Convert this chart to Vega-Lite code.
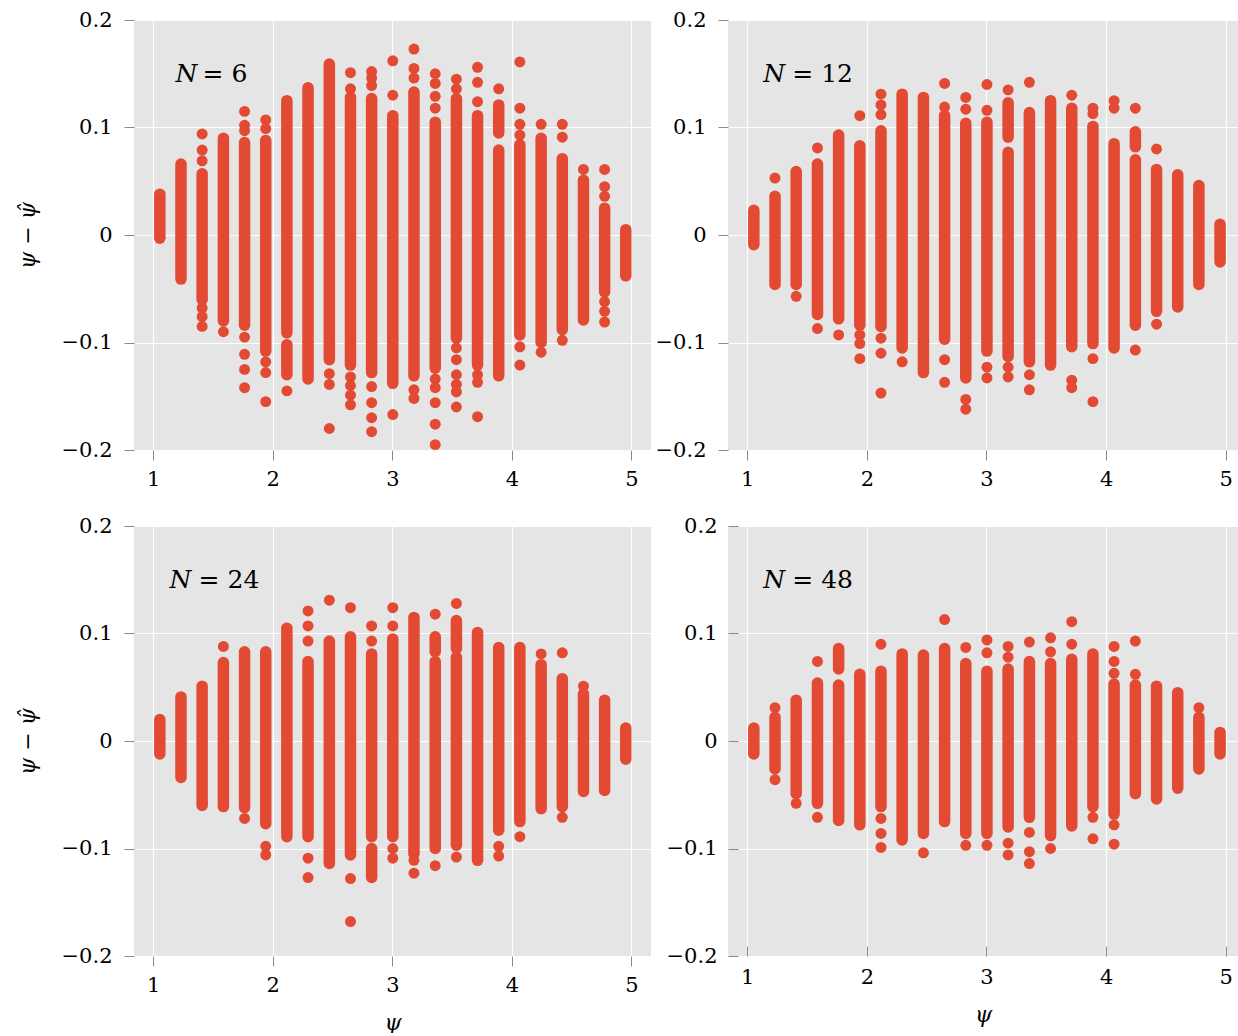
{
  "$schema": "https://vega.github.io/schema/vega-lite/v6.json",
  "padding": {"left": 16, "top": 9, "right": 0, "bottom": 0},
  "background": "white",
  "bounds": "flush",
  "columns": 2,
  "spacing": {"row": 76, "column": 77},
  "config": {
    "view": {"fill": "#E5E5E5", "stroke": null},
    "axis": {
      "domain": false,
      "labelFont": "DejaVu Serif",
      "labelFontSize": 21,
      "labelColor": "#000000",
      "tickColor": "#8a8a8a",
      "tickSize": 10,
      "tickWidth": 1,
      "labelPadding": 8,
      "gridColor": "#ffffff",
      "gridWidth": 1.2,
      "titleFont": "DejaVu Serif",
      "titleFontSize": 22,
      "titleFontWeight": "normal",
      "titleFontStyle": "italic",
      "titleColor": "#000000"
    },
    "axisLeft": {"labelPadding": 12}
  },
  "datasets": {
    "core": [
      {"p":6,"x":1.055,"hi":0.038,"lo":-0.003},{"p":6,"x":1.232,"hi":0.066,"lo":-0.041},{"p":6,"x":1.409,"hi":0.057,"lo":-0.060},{"p":6,"x":1.587,"hi":0.090,"lo":-0.080},{"p":6,"x":1.764,"hi":0.086,"lo":-0.084},{"p":6,"x":1.941,"hi":0.088,"lo":-0.108},{"p":6,"x":2.118,"hi":0.125,"lo":-0.091},{"p":6,"x":2.118,"hi":-0.102,"lo":-0.130},{"p":6,"x":2.295,"hi":0.137,"lo":-0.134},{"p":6,"x":2.473,"hi":0.159,"lo":-0.116},{"p":6,"x":2.65,"hi":0.128,"lo":-0.121},{"p":6,"x":2.827,"hi":0.127,"lo":-0.128},{"p":6,"x":3.004,"hi":0.111,"lo":-0.138},{"p":6,"x":3.181,"hi":0.133,"lo":-0.131},{"p":6,"x":3.359,"hi":0.105,"lo":-0.124},{"p":6,"x":3.536,"hi":0.127,"lo":-0.096},{"p":6,"x":3.713,"hi":0.111,"lo":-0.121},{"p":6,"x":3.89,"hi":0.121,"lo":0.095},{"p":6,"x":3.89,"hi":0.079,"lo":-0.131},{"p":6,"x":4.067,"hi":0.084,"lo":-0.093},{"p":6,"x":4.245,"hi":0.090,"lo":-0.100},{"p":6,"x":4.422,"hi":0.071,"lo":-0.088},{"p":6,"x":4.599,"hi":0.051,"lo":-0.079},{"p":6,"x":4.776,"hi":0.025,"lo":-0.053},{"p":6,"x":4.953,"hi":0.005,"lo":-0.038},
      {"p":12,"x":1.055,"hi":0.023,"lo":-0.009},{"p":12,"x":1.232,"hi":0.036,"lo":-0.046},{"p":12,"x":1.409,"hi":0.059,"lo":-0.046},{"p":12,"x":1.587,"hi":0.066,"lo":-0.074},{"p":12,"x":1.764,"hi":0.093,"lo":-0.078},{"p":12,"x":1.941,"hi":0.083,"lo":-0.084},{"p":12,"x":2.118,"hi":0.097,"lo":-0.085},{"p":12,"x":2.295,"hi":0.131,"lo":-0.105},{"p":12,"x":2.473,"hi":0.128,"lo":-0.128},{"p":12,"x":2.65,"hi":0.111,"lo":-0.097},{"p":12,"x":2.827,"hi":0.104,"lo":-0.133},{"p":12,"x":3.004,"hi":0.105,"lo":-0.108},{"p":12,"x":3.181,"hi":0.123,"lo":0.091},{"p":12,"x":3.181,"hi":0.077,"lo":-0.113},{"p":12,"x":3.359,"hi":0.114,"lo":-0.118},{"p":12,"x":3.536,"hi":0.125,"lo":-0.121},{"p":12,"x":3.713,"hi":0.118,"lo":-0.104},{"p":12,"x":3.89,"hi":0.101,"lo":-0.101},{"p":12,"x":4.067,"hi":0.085,"lo":-0.105},{"p":12,"x":4.245,"hi":0.096,"lo":0.082},{"p":12,"x":4.245,"hi":0.070,"lo":-0.084},{"p":12,"x":4.422,"hi":0.061,"lo":-0.071},{"p":12,"x":4.599,"hi":0.056,"lo":-0.067},{"p":12,"x":4.776,"hi":0.046,"lo":-0.046},{"p":12,"x":4.953,"hi":0.010,"lo":-0.025},
      {"p":24,"x":1.055,"hi":0.020,"lo":-0.012},{"p":24,"x":1.232,"hi":0.041,"lo":-0.034},{"p":24,"x":1.409,"hi":0.051,"lo":-0.060},{"p":24,"x":1.587,"hi":0.073,"lo":-0.061},{"p":24,"x":1.764,"hi":0.083,"lo":-0.062},{"p":24,"x":1.941,"hi":0.083,"lo":-0.077},{"p":24,"x":2.118,"hi":0.105,"lo":-0.089},{"p":24,"x":2.295,"hi":0.074,"lo":-0.089},{"p":24,"x":2.473,"hi":0.093,"lo":-0.114},{"p":24,"x":2.65,"hi":0.097,"lo":-0.106},{"p":24,"x":2.827,"hi":0.081,"lo":-0.089},{"p":24,"x":2.827,"hi":-0.100,"lo":-0.127},{"p":24,"x":3.004,"hi":0.095,"lo":-0.089},{"p":24,"x":3.181,"hi":0.115,"lo":-0.105},{"p":24,"x":3.359,"hi":0.097,"lo":0.083},{"p":24,"x":3.359,"hi":0.074,"lo":-0.100},{"p":24,"x":3.536,"hi":0.112,"lo":0.086},{"p":24,"x":3.536,"hi":0.078,"lo":-0.097},{"p":24,"x":3.713,"hi":0.101,"lo":-0.111},{"p":24,"x":3.89,"hi":0.087,"lo":-0.083},{"p":24,"x":4.067,"hi":0.087,"lo":-0.075},{"p":24,"x":4.245,"hi":0.071,"lo":-0.063},{"p":24,"x":4.422,"hi":0.058,"lo":-0.061},{"p":24,"x":4.599,"hi":0.044,"lo":-0.047},{"p":24,"x":4.776,"hi":0.038,"lo":-0.046},{"p":24,"x":4.953,"hi":0.012,"lo":-0.017},
      {"p":48,"x":1.055,"hi":0.012,"lo":-0.012},{"p":48,"x":1.232,"hi":0.022,"lo":-0.026},{"p":48,"x":1.409,"hi":0.038,"lo":-0.049},{"p":48,"x":1.587,"hi":0.054,"lo":-0.058},{"p":48,"x":1.764,"hi":0.086,"lo":0.067},{"p":48,"x":1.764,"hi":0.052,"lo":-0.074},{"p":48,"x":1.941,"hi":0.062,"lo":-0.078},{"p":48,"x":2.118,"hi":0.065,"lo":-0.061},{"p":48,"x":2.295,"hi":0.081,"lo":-0.092},{"p":48,"x":2.473,"hi":0.080,"lo":-0.086},{"p":48,"x":2.65,"hi":0.086,"lo":-0.075},{"p":48,"x":2.827,"hi":0.072,"lo":-0.086},{"p":48,"x":3.004,"hi":0.065,"lo":-0.086},{"p":48,"x":3.181,"hi":0.067,"lo":-0.080},{"p":48,"x":3.359,"hi":0.074,"lo":-0.071},{"p":48,"x":3.536,"hi":0.072,"lo":-0.088},{"p":48,"x":3.713,"hi":0.076,"lo":-0.079},{"p":48,"x":3.89,"hi":0.081,"lo":-0.061},{"p":48,"x":4.067,"hi":0.053,"lo":-0.068},{"p":48,"x":4.245,"hi":0.052,"lo":-0.049},{"p":48,"x":4.422,"hi":0.051,"lo":-0.054},{"p":48,"x":4.599,"hi":0.045,"lo":-0.044},{"p":48,"x":4.776,"hi":0.022,"lo":-0.026},{"p":48,"x":4.953,"hi":0.008,"lo":-0.012}
    ],
    "pts": [
      {"p":6,"x":1.409,"y":0.094},{"p":6,"x":1.409,"y":0.079},{"p":6,"x":1.409,"y":0.069},{"p":6,"x":1.409,"y":-0.068},{"p":6,"x":1.409,"y":-0.076},{"p":6,"x":1.409,"y":-0.085},
      {"p":6,"x":1.587,"y":-0.090},
      {"p":6,"x":1.764,"y":0.115},{"p":6,"x":1.764,"y":0.102},{"p":6,"x":1.764,"y":0.097},{"p":6,"x":1.764,"y":-0.095},{"p":6,"x":1.764,"y":-0.111},{"p":6,"x":1.764,"y":-0.125},{"p":6,"x":1.764,"y":-0.142},
      {"p":6,"x":1.941,"y":0.107},{"p":6,"x":1.941,"y":0.099},{"p":6,"x":1.941,"y":-0.118},{"p":6,"x":1.941,"y":-0.128},{"p":6,"x":1.941,"y":-0.155},
      {"p":6,"x":2.118,"y":-0.145},
      {"p":6,"x":2.473,"y":-0.129},{"p":6,"x":2.473,"y":-0.139},{"p":6,"x":2.473,"y":-0.180},
      {"p":6,"x":2.65,"y":0.151},{"p":6,"x":2.65,"y":0.136},{"p":6,"x":2.65,"y":-0.132},{"p":6,"x":2.65,"y":-0.140},{"p":6,"x":2.65,"y":-0.149},{"p":6,"x":2.65,"y":-0.158},
      {"p":6,"x":2.827,"y":0.152},{"p":6,"x":2.827,"y":0.146},{"p":6,"x":2.827,"y":0.139},{"p":6,"x":2.827,"y":-0.141},{"p":6,"x":2.827,"y":-0.156},{"p":6,"x":2.827,"y":-0.170},{"p":6,"x":2.827,"y":-0.183},
      {"p":6,"x":3.004,"y":0.162},{"p":6,"x":3.004,"y":0.130},{"p":6,"x":3.004,"y":-0.167},
      {"p":6,"x":3.181,"y":0.173},{"p":6,"x":3.181,"y":0.155},{"p":6,"x":3.181,"y":0.146},{"p":6,"x":3.181,"y":-0.144},{"p":6,"x":3.181,"y":-0.152},
      {"p":6,"x":3.359,"y":0.150},{"p":6,"x":3.359,"y":0.141},{"p":6,"x":3.359,"y":0.129},{"p":6,"x":3.359,"y":0.118},{"p":6,"x":3.359,"y":-0.134},{"p":6,"x":3.359,"y":-0.142},{"p":6,"x":3.359,"y":-0.156},{"p":6,"x":3.359,"y":-0.176},{"p":6,"x":3.359,"y":-0.195},
      {"p":6,"x":3.536,"y":0.145},{"p":6,"x":3.536,"y":0.136},{"p":6,"x":3.536,"y":-0.105},{"p":6,"x":3.536,"y":-0.116},{"p":6,"x":3.536,"y":-0.130},{"p":6,"x":3.536,"y":-0.139},{"p":6,"x":3.536,"y":-0.146},{"p":6,"x":3.536,"y":-0.160},
      {"p":6,"x":3.713,"y":0.156},{"p":6,"x":3.713,"y":0.142},{"p":6,"x":3.713,"y":0.124},{"p":6,"x":3.713,"y":-0.130},{"p":6,"x":3.713,"y":-0.137},{"p":6,"x":3.713,"y":-0.169},
      {"p":6,"x":3.89,"y":0.136},
      {"p":6,"x":4.067,"y":0.161},{"p":6,"x":4.067,"y":0.118},{"p":6,"x":4.067,"y":0.103},{"p":6,"x":4.067,"y":0.093},{"p":6,"x":4.067,"y":-0.104},{"p":6,"x":4.067,"y":-0.121},
      {"p":6,"x":4.245,"y":0.103},{"p":6,"x":4.245,"y":-0.109},
      {"p":6,"x":4.422,"y":0.103},{"p":6,"x":4.422,"y":0.091},{"p":6,"x":4.422,"y":-0.098},
      {"p":6,"x":4.599,"y":0.061},
      {"p":6,"x":4.776,"y":0.061},{"p":6,"x":4.776,"y":0.045},{"p":6,"x":4.776,"y":0.036},{"p":6,"x":4.776,"y":-0.062},{"p":6,"x":4.776,"y":-0.071},{"p":6,"x":4.776,"y":-0.081},
      {"p":12,"x":1.232,"y":0.053},
      {"p":12,"x":1.409,"y":-0.057},
      {"p":12,"x":1.587,"y":0.081},{"p":12,"x":1.587,"y":-0.087},
      {"p":12,"x":1.764,"y":-0.093},
      {"p":12,"x":1.941,"y":0.111},{"p":12,"x":1.941,"y":-0.093},{"p":12,"x":1.941,"y":-0.101},{"p":12,"x":1.941,"y":-0.115},
      {"p":12,"x":2.118,"y":0.131},{"p":12,"x":2.118,"y":0.121},{"p":12,"x":2.118,"y":0.112},{"p":12,"x":2.118,"y":-0.096},{"p":12,"x":2.118,"y":-0.110},{"p":12,"x":2.118,"y":-0.147},
      {"p":12,"x":2.295,"y":-0.118},
      {"p":12,"x":2.65,"y":0.141},{"p":12,"x":2.65,"y":0.119},{"p":12,"x":2.65,"y":-0.116},{"p":12,"x":2.65,"y":-0.137},
      {"p":12,"x":2.827,"y":0.128},{"p":12,"x":2.827,"y":0.117},{"p":12,"x":2.827,"y":-0.153},{"p":12,"x":2.827,"y":-0.162},
      {"p":12,"x":3.004,"y":0.140},{"p":12,"x":3.004,"y":0.116},{"p":12,"x":3.004,"y":-0.123},{"p":12,"x":3.004,"y":-0.133},
      {"p":12,"x":3.181,"y":0.135},{"p":12,"x":3.181,"y":-0.123},{"p":12,"x":3.181,"y":-0.132},
      {"p":12,"x":3.359,"y":0.142},{"p":12,"x":3.359,"y":-0.130},{"p":12,"x":3.359,"y":-0.144},
      {"p":12,"x":3.713,"y":0.130},{"p":12,"x":3.713,"y":-0.135},{"p":12,"x":3.713,"y":-0.142},
      {"p":12,"x":3.89,"y":0.118},{"p":12,"x":3.89,"y":0.113},{"p":12,"x":3.89,"y":-0.115},{"p":12,"x":3.89,"y":-0.155},
      {"p":12,"x":4.067,"y":0.125},{"p":12,"x":4.067,"y":0.118},
      {"p":12,"x":4.245,"y":0.118},{"p":12,"x":4.245,"y":-0.107},
      {"p":12,"x":4.422,"y":0.080},{"p":12,"x":4.422,"y":-0.083},
      {"p":24,"x":1.587,"y":0.088},
      {"p":24,"x":1.764,"y":-0.072},
      {"p":24,"x":1.941,"y":-0.098},{"p":24,"x":1.941,"y":-0.106},
      {"p":24,"x":2.295,"y":0.121},{"p":24,"x":2.295,"y":0.107},{"p":24,"x":2.295,"y":0.093},{"p":24,"x":2.295,"y":-0.109},{"p":24,"x":2.295,"y":-0.127},
      {"p":24,"x":2.473,"y":0.131},
      {"p":24,"x":2.65,"y":0.124},{"p":24,"x":2.65,"y":-0.128},{"p":24,"x":2.65,"y":-0.168},
      {"p":24,"x":2.827,"y":0.107},{"p":24,"x":2.827,"y":0.093},
      {"p":24,"x":3.004,"y":0.124},{"p":24,"x":3.004,"y":0.107},{"p":24,"x":3.004,"y":-0.100},{"p":24,"x":3.004,"y":-0.109},
      {"p":24,"x":3.181,"y":-0.111},{"p":24,"x":3.181,"y":-0.123},
      {"p":24,"x":3.359,"y":0.118},{"p":24,"x":3.359,"y":-0.116},
      {"p":24,"x":3.536,"y":0.128},{"p":24,"x":3.536,"y":-0.108},
      {"p":24,"x":3.89,"y":-0.098},{"p":24,"x":3.89,"y":-0.107},
      {"p":24,"x":4.067,"y":-0.089},
      {"p":24,"x":4.245,"y":0.081},
      {"p":24,"x":4.422,"y":0.082},{"p":24,"x":4.422,"y":-0.071},
      {"p":24,"x":4.599,"y":0.051},
      {"p":48,"x":1.232,"y":0.031},{"p":48,"x":1.232,"y":-0.036},
      {"p":48,"x":1.409,"y":-0.058},
      {"p":48,"x":1.587,"y":0.074},{"p":48,"x":1.587,"y":-0.071},
      {"p":48,"x":2.118,"y":0.090},{"p":48,"x":2.118,"y":-0.072},{"p":48,"x":2.118,"y":-0.086},{"p":48,"x":2.118,"y":-0.099},
      {"p":48,"x":2.473,"y":-0.104},
      {"p":48,"x":2.65,"y":0.113},
      {"p":48,"x":2.827,"y":0.087},{"p":48,"x":2.827,"y":-0.097},
      {"p":48,"x":3.004,"y":0.094},{"p":48,"x":3.004,"y":0.082},{"p":48,"x":3.004,"y":-0.097},
      {"p":48,"x":3.181,"y":0.088},{"p":48,"x":3.181,"y":0.078},{"p":48,"x":3.181,"y":-0.095},{"p":48,"x":3.181,"y":-0.106},
      {"p":48,"x":3.359,"y":0.092},{"p":48,"x":3.359,"y":-0.085},{"p":48,"x":3.359,"y":-0.103},{"p":48,"x":3.359,"y":-0.114},
      {"p":48,"x":3.536,"y":0.096},{"p":48,"x":3.536,"y":0.083},{"p":48,"x":3.536,"y":-0.100},
      {"p":48,"x":3.713,"y":0.111},{"p":48,"x":3.713,"y":0.090},
      {"p":48,"x":3.89,"y":-0.071},{"p":48,"x":3.89,"y":-0.091},
      {"p":48,"x":4.067,"y":0.088},{"p":48,"x":4.067,"y":0.074},{"p":48,"x":4.067,"y":0.063},{"p":48,"x":4.067,"y":-0.078},{"p":48,"x":4.067,"y":-0.096},
      {"p":48,"x":4.245,"y":0.093},{"p":48,"x":4.245,"y":0.062},
      {"p":48,"x":4.776,"y":0.031}
    ],
    "lab": [
      {"p":6,"n":"N","v":"= 6"},{"p":12,"n":"N","v":"= 12"},{"p":24,"n":"N","v":"= 24"},{"p":48,"n":"N","v":"= 48"}
    ]
  },
  "concat": [
    {
      "width": 517, "height": 430,
      "layer": [
        {"data": {"name": "core"}, "transform": [{"filter": "datum.p == 6"}],
         "mark": {"type": "rule", "strokeWidth": 11.5, "strokeCap": "round", "color": "#E24A33"},
         "encoding": {
           "x": {"field": "x", "type": "quantitative", "scale": {"domain": [0.839, 5.164], "nice": false, "zero": false}, "axis": {"values": [1,2,3,4,5], "format": "d", "title": null}},
           "y": {"field": "hi", "type": "quantitative", "scale": {"domain": [-0.2, 0.2], "nice": false, "zero": false}, "axis": {"values": [-0.2,-0.1,0,0.1,0.2], "format": "~g", "title": "ψ − ψ̂", "titlePadding": 22}},
           "y2": {"field": "lo"}}},
        {"data": {"name": "pts"}, "transform": [{"filter": "datum.p == 6"}],
         "mark": {"type": "circle", "size": 120, "opacity": 1, "color": "#E24A33"},
         "encoding": {"x": {"field": "x", "type": "quantitative"}, "y": {"field": "y", "type": "quantitative"}}},
        {"data": {"name": "lab"}, "transform": [{"filter": "datum.p == 6"}],
         "mark": {"type": "text", "font": "DejaVu Serif", "fontSize": 25, "fontStyle": "italic", "align": "left", "baseline": "alphabetic", "color": "#000000"},
         "encoding": {"x": {"datum": 1.187, "type": "quantitative"}, "y": {"datum": 0.142, "type": "quantitative"}, "text": {"field": "n"}}},
        {"data": {"name": "lab"}, "transform": [{"filter": "datum.p == 6"}],
         "mark": {"type": "text", "font": "DejaVu Serif", "fontSize": 25, "align": "left", "baseline": "alphabetic", "dx": 27, "color": "#000000"},
         "encoding": {"x": {"datum": 1.187, "type": "quantitative"}, "y": {"datum": 0.142, "type": "quantitative"}, "text": {"field": "v"}}}
      ]
    },
    {
      "width": 510, "height": 430,
      "layer": [
        {"data": {"name": "core"}, "transform": [{"filter": "datum.p == 12"}],
         "mark": {"type": "rule", "strokeWidth": 11.5, "strokeCap": "round", "color": "#E24A33"},
         "encoding": {
           "x": {"field": "x", "type": "quantitative", "scale": {"domain": [0.839, 5.103], "nice": false, "zero": false}, "axis": {"values": [1,2,3,4,5], "format": "d", "title": null}},
           "y": {"field": "hi", "type": "quantitative", "scale": {"domain": [-0.2, 0.2], "nice": false, "zero": false}, "axis": {"values": [-0.2,-0.1,0,0.1,0.2], "format": "~g", "title": null}},
           "y2": {"field": "lo"}}},
        {"data": {"name": "pts"}, "transform": [{"filter": "datum.p == 12"}],
         "mark": {"type": "circle", "size": 120, "opacity": 1, "color": "#E24A33"},
         "encoding": {"x": {"field": "x", "type": "quantitative"}, "y": {"field": "y", "type": "quantitative"}}},
        {"data": {"name": "lab"}, "transform": [{"filter": "datum.p == 12"}],
         "mark": {"type": "text", "font": "DejaVu Serif", "fontSize": 25, "fontStyle": "italic", "align": "left", "baseline": "alphabetic", "color": "#000000"},
         "encoding": {"x": {"datum": 1.134, "type": "quantitative"}, "y": {"datum": 0.142, "type": "quantitative"}, "text": {"field": "n"}}},
        {"data": {"name": "lab"}, "transform": [{"filter": "datum.p == 12"}],
         "mark": {"type": "text", "font": "DejaVu Serif", "fontSize": 25, "align": "left", "baseline": "alphabetic", "dx": 29, "color": "#000000"},
         "encoding": {"x": {"datum": 1.134, "type": "quantitative"}, "y": {"datum": 0.142, "type": "quantitative"}, "text": {"field": "v"}}}
      ]
    },
    {
      "width": 517, "height": 430,
      "layer": [
        {"data": {"name": "core"}, "transform": [{"filter": "datum.p == 24"}],
         "mark": {"type": "rule", "strokeWidth": 11.5, "strokeCap": "round", "color": "#E24A33"},
         "encoding": {
           "x": {"field": "x", "type": "quantitative", "scale": {"domain": [0.839, 5.164], "nice": false, "zero": false}, "axis": {"values": [1,2,3,4,5], "format": "d", "title": "ψ", "titlePadding": 17}},
           "y": {"field": "hi", "type": "quantitative", "scale": {"domain": [-0.2, 0.2], "nice": false, "zero": false}, "axis": {"values": [-0.2,-0.1,0,0.1,0.2], "format": "~g", "title": "ψ − ψ̂", "titlePadding": 22}},
           "y2": {"field": "lo"}}},
        {"data": {"name": "pts"}, "transform": [{"filter": "datum.p == 24"}],
         "mark": {"type": "circle", "size": 120, "opacity": 1, "color": "#E24A33"},
         "encoding": {"x": {"field": "x", "type": "quantitative"}, "y": {"field": "y", "type": "quantitative"}}},
        {"data": {"name": "lab"}, "transform": [{"filter": "datum.p == 24"}],
         "mark": {"type": "text", "font": "DejaVu Serif", "fontSize": 25, "fontStyle": "italic", "align": "left", "baseline": "alphabetic", "color": "#000000"},
         "encoding": {"x": {"datum": 1.137, "type": "quantitative"}, "y": {"datum": 0.142, "type": "quantitative"}, "text": {"field": "n"}}},
        {"data": {"name": "lab"}, "transform": [{"filter": "datum.p == 24"}],
         "mark": {"type": "text", "font": "DejaVu Serif", "fontSize": 25, "align": "left", "baseline": "alphabetic", "dx": 29, "color": "#000000"},
         "encoding": {"x": {"datum": 1.137, "type": "quantitative"}, "y": {"datum": 0.142, "type": "quantitative"}, "text": {"field": "v"}}}
      ]
    },
    {
      "width": 510, "height": 430,
      "layer": [
        {"data": {"name": "core"}, "transform": [{"filter": "datum.p == 48"}],
         "mark": {"type": "rule", "strokeWidth": 11.5, "strokeCap": "round", "color": "#E24A33"},
         "encoding": {
           "x": {"field": "x", "type": "quantitative", "scale": {"domain": [0.839, 5.103], "nice": false, "zero": false}, "axis": {"values": [1,2,3,4,5], "format": "d", "title": "ψ", "titlePadding": 17, "tickSize": -10, "labelPadding": 20}},
           "y": {"field": "hi", "type": "quantitative", "scale": {"domain": [-0.2, 0.2], "nice": false, "zero": false}, "axis": {"values": [-0.2,-0.1,0,0.1,0.2], "format": "~g", "title": null, "tickSize": -10, "labelPadding": 21}},
           "y2": {"field": "lo"}}},
        {"data": {"name": "pts"}, "transform": [{"filter": "datum.p == 48"}],
         "mark": {"type": "circle", "size": 120, "opacity": 1, "color": "#E24A33"},
         "encoding": {"x": {"field": "x", "type": "quantitative"}, "y": {"field": "y", "type": "quantitative"}}},
        {"data": {"name": "lab"}, "transform": [{"filter": "datum.p == 48"}],
         "mark": {"type": "text", "font": "DejaVu Serif", "fontSize": 25, "fontStyle": "italic", "align": "left", "baseline": "alphabetic", "color": "#000000"},
         "encoding": {"x": {"datum": 1.134, "type": "quantitative"}, "y": {"datum": 0.142, "type": "quantitative"}, "text": {"field": "n"}}},
        {"data": {"name": "lab"}, "transform": [{"filter": "datum.p == 48"}],
         "mark": {"type": "text", "font": "DejaVu Serif", "fontSize": 25, "align": "left", "baseline": "alphabetic", "dx": 29, "color": "#000000"},
         "encoding": {"x": {"datum": 1.134, "type": "quantitative"}, "y": {"datum": 0.142, "type": "quantitative"}, "text": {"field": "v"}}}
      ]
    }
  ]
}
